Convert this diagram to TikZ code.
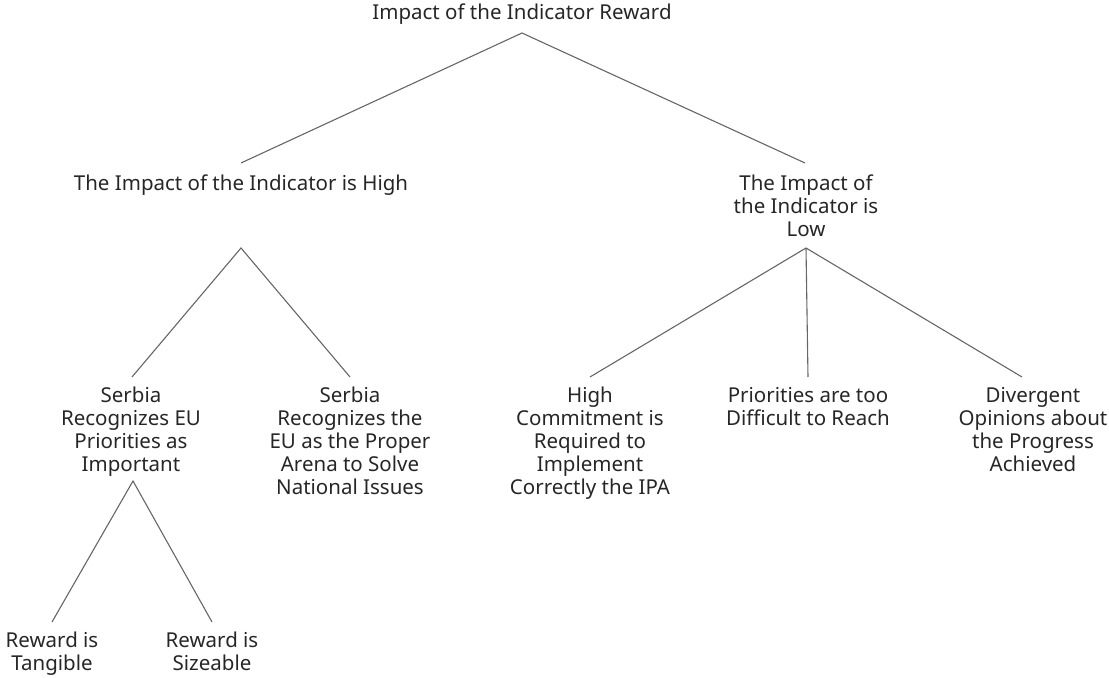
\documentclass[tikz,border=0pt]{standalone}
\usepackage{fontspec}
\setmainfont{Noto Sans}
\begin{document}
\begin{tikzpicture}[x=0.5pt,y=-0.5pt,
  lbl/.style={anchor=north,inner sep=0pt,align=center,text=black!85,
    font=\fontsize{10.25}{11.5}\selectfont},
  edge/.style={draw=black!60,line width=0.55pt}]
\useasboundingbox (0,0) rectangle (1109,678);
% texts
\node[lbl] (root) at (522,3.5) {Impact of the Indicator Reward};
\node[lbl] (high) at (241,174.5) {The Impact of the Indicator is High};
\node[lbl] (low) at (806,174.5) {The Impact of\\the Indicator is\\Low};
\node[lbl] (s1) at (131,386.5) {Serbia\\Recognizes EU\\Priorities as\\Important};
\node[lbl] (s2) at (350,386.5) {Serbia\\Recognizes the\\EU as the Proper\\Arena to Solve\\National Issues};
\node[lbl] (hc) at (590,386.5) {High\\Commitment is\\Required to\\Implement\\Correctly the IPA};
\node[lbl] (pr) at (808,386.5) {Priorities are too\\Difficult to Reach};
\node[lbl] (dv) at (1033,386.5) {Divergent\\Opinions about\\the Progress\\Achieved};
\node[lbl] (tg) at (52,631.5) {Reward is\\Tangible};
\node[lbl] (sz) at (212,631.5) {Reward is\\Sizeable};
% connector points
\coordinate (rootB) at (522,33);
\coordinate (highT) at (241,163);
\coordinate (lowT) at (805,163);
\coordinate (highB) at (241,248);
\coordinate (lowB) at (806,248);
\coordinate (s1T) at (132,377);
\coordinate (s2T) at (350,377);
\coordinate (hcT) at (590,377);
\coordinate (prT) at (808,377);
\coordinate (dvT) at (1022,377);
\coordinate (s1B) at (133,481);
\coordinate (tgT) at (52,622);
\coordinate (szT) at (212,622);
% connectors
\draw[edge] (highT) -- (rootB) -- (lowT);
\draw[edge] (s1T) -- (highB) -- (s2T);
\draw[edge] (hcT) -- (lowB) -- (dvT);
\draw[edge] (lowB) -- (prT);
\draw[edge] (tgT) -- (s1B) -- (szT);
\end{tikzpicture}
\end{document}
